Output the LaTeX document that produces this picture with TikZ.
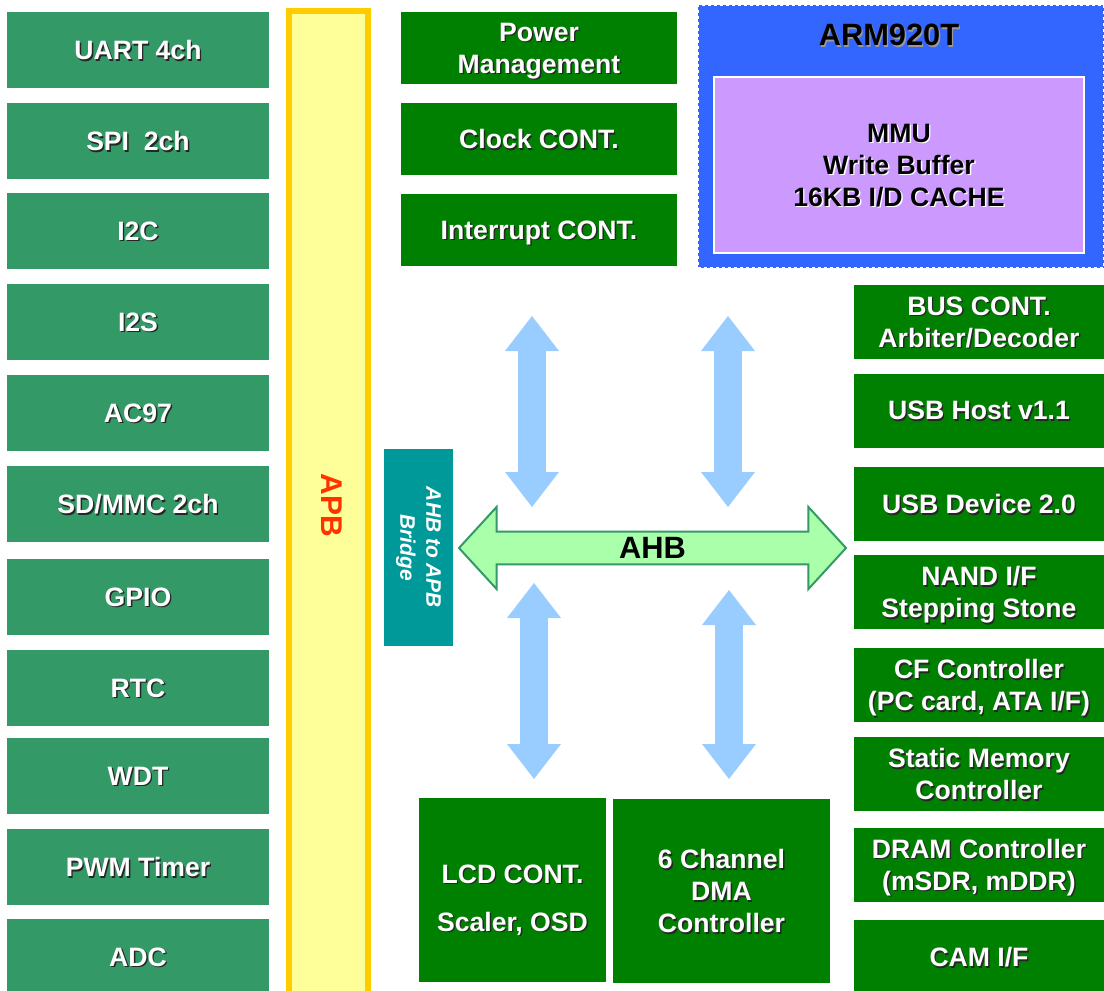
\documentclass[tikz,border=0pt]{standalone}
\usepackage{fontspec}
\setmainfont{Liberation Sans}
\usetikzlibrary{shapes.arrows, arrows.meta}

\definecolor{apbgreen}{HTML}{339966}
\definecolor{ahbgreen}{HTML}{008000}
\definecolor{bridgeteal}{HTML}{009999}
\definecolor{armblue}{HTML}{3366FF}
\definecolor{mmupurple}{HTML}{CC99FF}
\definecolor{busblue}{HTML}{99CCFF}
\definecolor{ahbfill}{HTML}{AAFFAA}
\definecolor{apbfill}{HTML}{FFFF99}
\definecolor{apbedge}{HTML}{FFCC00}
\definecolor{apbred}{HTML}{FF3300}

% text with a small drop shadow
\newcommand{\shtxt}[2][black!85]{\leavevmode\rlap{\kern0.7pt\raisebox{-0.7pt}{\textcolor{#1}{#2}}}#2}

\begin{document}
\begin{tikzpicture}[x=0.5pt, y=-0.5pt,
    blk/.style={inner sep=0pt, align=center, text=white, text depth=0pt,
      font=\fontsize{13.3}{16}\selectfont\bfseries},
    apbblk/.style={blk, fill=apbgreen, minimum width=131pt, minimum height=38pt},
    ahbblk/.style={blk, fill=ahbgreen, minimum width=138pt, minimum height=36pt},
    sideblk/.style={blk, fill=ahbgreen, minimum width=125pt, minimum height=37pt},
    busarrow/.style={draw=busblue, line width=14pt,
      >={Triangle[length=17.5pt, width=27pt, line width=0pt]}, <->}]

    \useasboundingbox (0,0) rectangle (1104,991);
    \clip (0,0) rectangle (1104,991);

    % APB side
    \node[apbblk] (uart) at (138,50) {\shtxt{UART 4ch}};
    \node[apbblk] (spi) at (138,141) {\shtxt{SPI\ \ 2ch}};
    \node[apbblk] (iic) at (138,231) {\shtxt{I2C}};
    \node[apbblk] (iis) at (138,322) {\shtxt{I2S}};
    \node[apbblk] (ac97) at (138,413) {\shtxt{AC97}};
    \node[apbblk] (sdmmc) at (138,504) {\shtxt{SD/MMC 2ch}};
    \node[apbblk] (gpio) at (138,597) {\shtxt{GPIO}};
    \node[apbblk] (rtc) at (138,688) {\shtxt{RTC}};
    \node[apbblk] (wdt) at (138,776) {\shtxt{WDT}};
    \node[apbblk] (pwm) at (138,867) {\shtxt{PWM Timer}};
    \node[apbblk] (adc) at (138,957) {\shtxt{ADC}};

    \node[draw=apbedge, fill=apbfill, line width=3pt, rotate=-90,
      minimum width=494.5pt, minimum height=39.5pt, text=apbred,
      text depth=3pt, font=\fontsize{15}{18}\selectfont\bfseries]
      (apb) at (328.5,505.5) {APB};

    \node[fill=bridgeteal, rotate=-90, minimum width=98.5pt,
      minimum height=34.5pt, inner sep=0pt, align=center, text=white,
      font=\fontsize{10.5}{13}\selectfont\bfseries\itshape]
      (bridge) at (418.5,547.5) {AHB to APB\\Bridge};

    % AHB side
    \node[ahbblk] (pmu) at (539,48) {\shtxt{Power}\\\shtxt{Management}};
    \node[ahbblk] (clk) at (539,139) {\shtxt{Clock CONT.}};
    \node[ahbblk] (intc) at (539,230) {\shtxt{Interrupt CONT.}};

    \node[fill=armblue, draw=white, dash pattern=on 1.5pt off 1.5pt,
      line width=1pt, minimum width=203pt, minimum height=131.5pt,
      inner sep=0pt] (arm) at (901,136.5) {};
    \node[font=\fontsize{15.4}{18}\selectfont\bfseries]
      (armname) at (889,36) {\shtxt[black!40]{ARM920T}};
    \node[blk, text=black, fill=mmupurple, draw=white, line width=1pt,
      minimum width=185pt, minimum height=88pt] (mmu) at (899,165)
      {\shtxt[white!80]{MMU}\\\shtxt[white!80]{Write Buffer}\\\shtxt[white!80]{16KB I/D CACHE}};

    \node[sideblk] (busc) at (979,322) {\shtxt{BUS CONT.}\\\shtxt{Arbiter/Decoder}};
    \node[sideblk] (usbh) at (979,410.5) {\shtxt{USB Host v1.1}};
    \node[sideblk] (usbd) at (979,504) {\shtxt{USB Device 2.0}};
    \node[sideblk] (nand) at (979,592) {\shtxt{NAND I/F}\\\shtxt{Stepping Stone}};
    \node[sideblk] (cf) at (979,685) {\shtxt{CF Controller}\\\shtxt{(PC card, ATA I/F)}};
    \node[sideblk] (smc) at (979,774) {\shtxt{Static Memory}\\\shtxt{Controller}};
    \node[sideblk] (dram) at (979,864.5) {\shtxt{DRAM Controller}\\\shtxt{(mSDR, mDDR)}};
    \node[sideblk] (cam) at (979,957) {\shtxt{CAM I/F}};

    \node[ahbblk, minimum width=93.5pt, minimum height=92pt]
      (lcd) at (512.5,890) {\rule{0pt}{17.5pt}\shtxt{LCD CONT.}\\[8pt]\shtxt{Scaler, OSD}};
    \node[ahbblk, minimum width=108.5pt, minimum height=92pt]
      (dma) at (721.5,891) {\shtxt{6 Channel}\\\shtxt{DMA}\\\shtxt{Controller}};

    \node[double arrow, draw=apbgreen, fill=ahbfill, line width=1pt,
      double arrow head extend=8.75pt, double arrow tip angle=95,
      minimum height=193.5pt, minimum width=41pt, inner sep=0pt,
      font=\fontsize{15.4}{18}\selectfont\bfseries] (ahb) at (652.5,548) {AHB};

    \coordinate (ulup) at (532,316);
    \coordinate (uldn) at (532,507);
    \coordinate (urup) at (728,316);
    \coordinate (urdn) at (728,507);
    \coordinate (llup) at (534,583);
    \coordinate (lldn) at (534,779);
    \coordinate (lrup) at (729,590);
    \coordinate (lrdn) at (729,779);

    \draw[busarrow] (ulup) -- (uldn);
    \draw[busarrow] (urup) -- (urdn);
    \draw[busarrow] (llup) -- (lldn);
    \draw[busarrow] (lrup) -- (lrdn);

  \end{tikzpicture}
\end{document}
